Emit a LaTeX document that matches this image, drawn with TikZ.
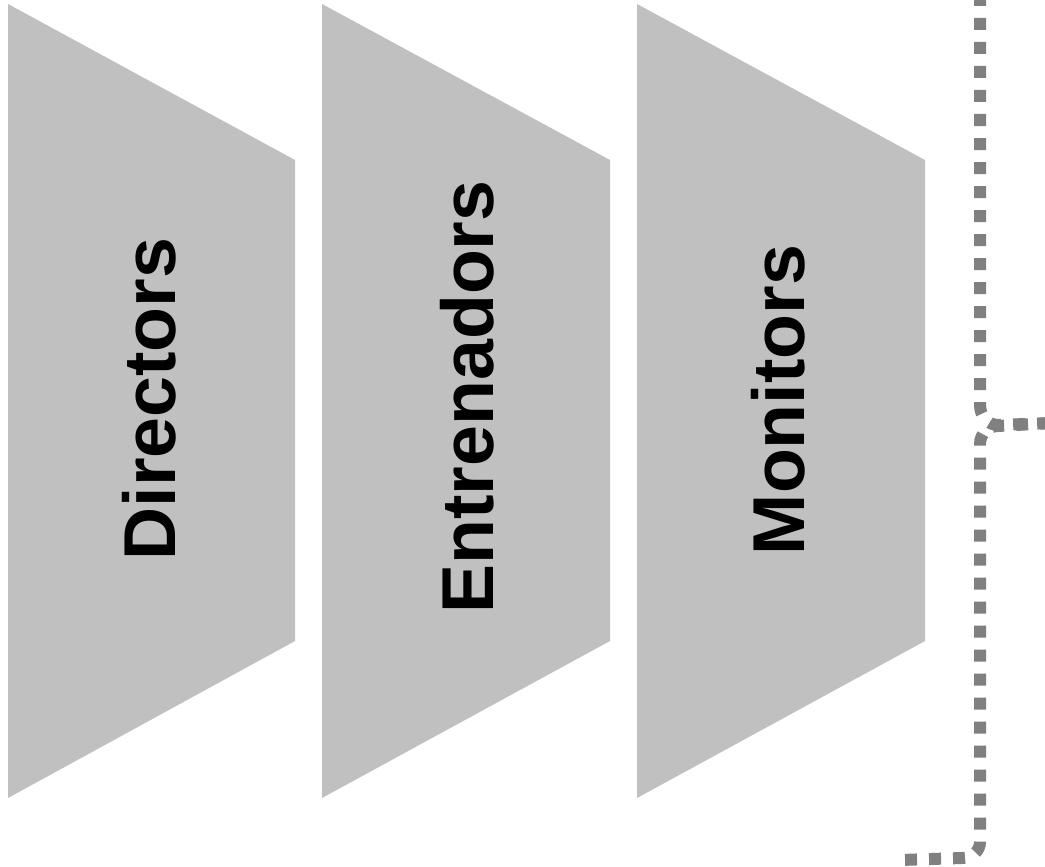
\documentclass[tikz,border=0pt]{standalone}
\usepackage{fontspec}
\setmainfont{Liberation Sans}
\definecolor{shapegray}{HTML}{C0C0C0}
\definecolor{dotgray}{HTML}{808080}
\tikzset{
  trap/.style={fill=shapegray, draw=none},
  lbl/.style={rotate=90, font=\fontsize{73.5}{80}\selectfont\bfseries, text=black, inner sep=0pt},
  bracedots/.style={draw=dotgray, line width=12pt, dash pattern=on 12pt off 12pt},
}
\begin{document}
\begin{tikzpicture}[x=1pt,y=-1pt]
\useasboundingbox (0,0) rectangle (1045,867);
\clip (0,0) rectangle (1045,867);
% trapezoids
\fill[trap] (8,4) -- (295,160) -- (295,641) -- (8,798) -- cycle;
\fill[trap] (322,4) -- (610,160) -- (610,641) -- (322,798) -- cycle;
\fill[trap] (637,4) -- (925,160) -- (925,641) -- (637,798) -- cycle;
% labels
\node[lbl] (dir) at (149,399) {Directors};
\node[lbl] (ent) at (467,397) {Entrenadors};
\node[lbl] (mon) at (778,400) {Monitors};
% brace
\coordinate (top) at (980,-6);
\coordinate (tip) at (1052,423);
\coordinate (bend) at (900,860);
\draw[bracedots] (top) -- (980,405) to[out=-90,in=180] (998,425) -- (tip);
\draw[bracedots] (tip) -- (998,426) to[out=180,in=90] (980,444) -- (980,842) to[out=-90,in=0] (962,858) -- (bend);
\end{tikzpicture}
\end{document}
